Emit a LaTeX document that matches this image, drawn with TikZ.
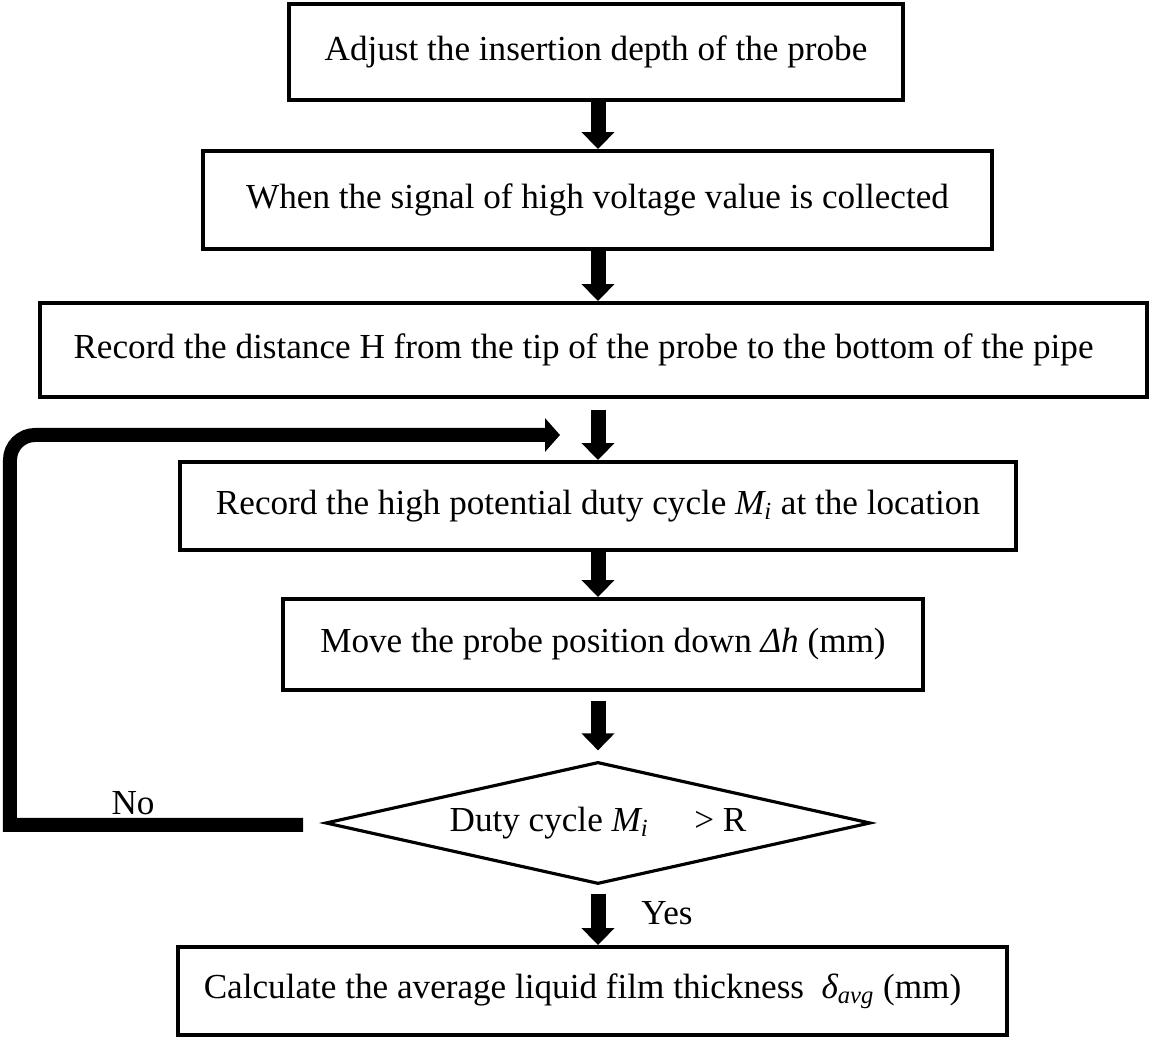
\documentclass[tikz,border=0pt]{standalone}
\usepackage{fontspec}
\setmainfont{Liberation Serif}
\usepackage{tikz}
\usetikzlibrary{arrows.meta,shapes.geometric}

\begin{document}
\begin{tikzpicture}[
	stepbox/.style={draw,line width=2.2pt,inner sep=0pt,align=center,font=\fontsize{20}{24}\selectfont},
	decbox/.style={draw,shape=diamond,aspect=4.47,line width=1.8pt,inner sep=0pt,font=\fontsize{20}{24}\selectfont},
	flow/.style={line width=0.3cm,-{Triangle[width=0.64cm,length=0.34cm]}},
	loopline/.style={line width=0.28cm,-{Triangle[width=0.66cm,length=0.3cm]}},
	lab/.style={font=\fontsize{20}{24}\selectfont}]
	\useasboundingbox (0,0) rectangle (23,20.76);
	%\draw[help lines] (0,0) grid (23,21);
	\node[stepbox,minimum width=12.28cm,minimum height=1.92cm] (adj) at (11.92,19.72) {Adjust the insertion depth of the probe};
	\node[stepbox,minimum width=15.78cm,minimum height=1.96cm] (sig) at (11.95,16.76) {When the signal of high voltage value is collected};
	\node[stepbox,minimum width=22.14cm,minimum height=1.88cm] (dist) at (11.87,13.76) {Record the distance H from the tip of the probe to the bottom of the pipe\hspace{0.4cm}};
	\node[stepbox,minimum width=16.72cm,minimum height=1.76cm] (duty) at (11.96,10.64) {Record the high potential duty cycle \textit{M\textsubscript{i}} at the location};
	\node[stepbox,minimum width=12.8cm,minimum height=1.82cm] (move) at (12.06,7.87) {Move the probe position down \textit{Δh} (mm)};
	\node[decbox,minimum width=10.9cm,minimum height=2.44cm] (dec) at (11.96,4.3) {Duty cycle \textit{M\textsubscript{i}}\hspace{1.3em}> R};
	\node[stepbox,minimum width=16.58cm,minimum height=1.76cm] (calc) at (11.85,0.94) {Calculate the average liquid film thickness \ \textit{δ\textsubscript{avg}} (mm)\hspace{0.4cm}};

	\draw[flow] (adj.south -| 11.96,0) -- (sig.north -| 11.96,0);
	\draw[flow] (sig.south -| 11.96,0) -- (dist.north -| 11.96,0);
	\draw[flow] ([yshift=-0.22cm]dist.south -| 11.96,0) -- (duty.north -| 11.96,0);
	\draw[flow] (duty.south -| 11.96,0) -- (move.north -| 11.96,0);
	\draw[flow] ([yshift=-0.18cm]move.south -| 11.96,0) -- ([yshift=0.2cm]dec.north);
	\draw[flow] ([yshift=-0.16cm]dec.south) -- (calc.north -| 11.96,0);

	% No branch back to the loop start
	\coordinate (noend) at (6.06,4.26);
	\coordinate (nocorner) at (0.2,4.26);
	\coordinate (loopin) at (11.2,12.06);
	\draw[loopline] (noend) -- (nocorner) [rounded corners=0.5cm] -- (0.2,12.06) -- (loopin);
	\node[lab] (no) at (2.66,4.7) {No};
	\node[lab] (yes) at (13.34,2.5) {Yes};
\end{tikzpicture}
\end{document}
